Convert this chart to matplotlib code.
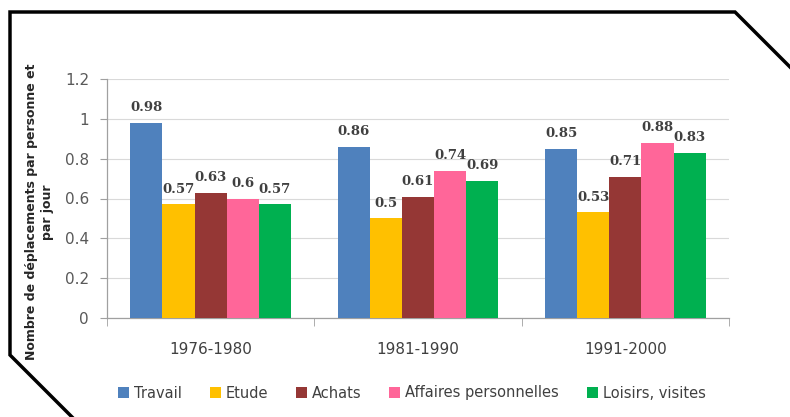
import matplotlib
matplotlib.use("Agg")
import matplotlib.pyplot as plt
import numpy as np
from matplotlib.lines import Line2D
from matplotlib.patches import Patch

periods = ["1976-1980", "1981-1990", "1991-2000"]
series_names = ["Travail", "Etude", "Achats", "Affaires personnelles", "Loisirs, visites"]
travail = [0.98, 0.86, 0.85]
etude = [0.57, 0.50, 0.53]
achats = [0.63, 0.61, 0.71]
affaires = [0.60, 0.74, 0.88]
loisirs = [0.57, 0.69, 0.83]
value_labels = [["0.98", "0.86", "0.85"], ["0.57", "0.5", "0.53"], ["0.63", "0.61", "0.71"],
                ["0.6", "0.74", "0.88"], ["0.57", "0.69", "0.83"]]
yticks = [0, 0.2, 0.4, 0.6, 0.8, 1, 1.2]
ytick_labels = ["0", "0.2", "0.4", "0.6", "0.8", "1", "1.2"]

colors = ["#4F81BD", "#FFC000", "#953735", "#FF6699", "#00B050"]
series = [travail, etude, achats, affaires, loisirs]

W, H = 790, 417
fig = plt.figure(figsize=(W / 100, H / 100), dpi=100)
fig.patch.set_facecolor("white")
ax = fig.add_axes([107 / W, 1 - 318 / H, (729 - 107) / W, (318 - 79) / H])

x = np.arange(len(periods))
bw = 0.155
for i, (vals, c) in enumerate(zip(series, colors)):
    pos = x + (i - 2) * bw
    bars = ax.bar(pos, vals, width=bw, color=c, linewidth=0, zorder=3)
    for b, lab in zip(bars, value_labels[i]):
        ax.annotate(lab, (b.get_x() + b.get_width() / 2, b.get_height()),
                    xytext=(0, 6), textcoords="offset points", ha="center", va="bottom",
                    fontsize=9.5, fontweight="bold", family="DejaVu Serif", color="#404040")

ax.set_xlim(-0.5, 2.5)
ax.set_ylim(0, 1.2)
ax.set_yticks(yticks)
ax.set_yticklabels(ytick_labels)
ax.yaxis.grid(True, color="#D9D9D9", linewidth=0.8, zorder=0)
ax.set_axisbelow(True)
for s in ["top", "right"]:
    ax.spines[s].set_visible(False)
for s in ["left", "bottom"]:
    ax.spines[s].set_color("#A0A0A0")
    ax.spines[s].set_linewidth(0.9)

ax.set_xticks(x)
ax.set_xticklabels(periods)
ax.tick_params(axis="x", length=0, pad=17, labelsize=11, labelcolor="#404040")
ax.set_xticks([-0.5, 0.5, 1.5, 2.5], minor=True)
ax.tick_params(axis="x", which="minor", length=6, color="#A0A0A0", direction="out")
ax.tick_params(axis="y", length=5, color="#A0A0A0", labelsize=11, labelcolor="#595959", pad=8)

ax.set_ylabel("Nombre de déplacements par personne et\npar jour", fontsize=9,
              fontweight="bold", color="#262626", linespacing=1.3)
ax.yaxis.set_label_coords(-0.086, 0.443)

handles = [Patch(facecolor=c, edgecolor="none") for c in colors]
leg = fig.legend(handles, series_names, loc="center", bbox_to_anchor=(412 / W, 1 - 393 / H),
                 ncol=5, frameon=False, fontsize=10.5, handlelength=0.75, handleheight=0.75,
                 handletextpad=0.35, columnspacing=1.9)
for t in leg.get_texts():
    t.set_color("#404040")

# decorative frame with cut corners
pts_x = [790, 735, 10, 10, 72]
pts_y = [67, 12, 12, 355, 417]
fig.add_artist(Line2D([px / W for px in pts_x], [1 - py / H for py in pts_y],
                      transform=fig.transFigure, color="black", linewidth=2.5,
                      solid_joinstyle="miter"))

fig.savefig("out.png", dpi=100)
